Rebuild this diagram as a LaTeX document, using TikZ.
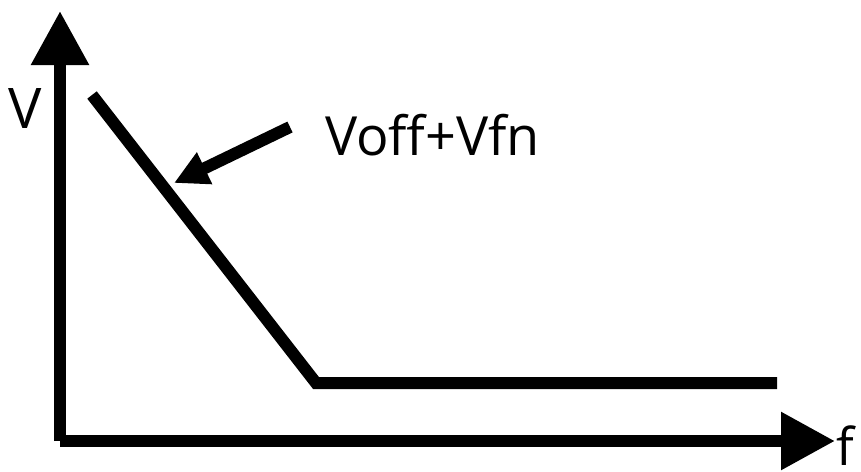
\documentclass[tikz,border=0pt]{standalone}
\usepackage{fontspec}
\setmainfont{Open Sans}
\usetikzlibrary{arrows.meta}
\begin{document}
\begin{tikzpicture}[x=1pt,y=-1pt,
  thick line/.style={line width=12pt},
  axis/.style={thick line,-{Triangle[length=54pt,width=55pt]}},
  pointer/.style={thick line,-{Triangle[length=34pt,width=33pt]}},
  lbl/.style={font=\fontsize{56}{60}\selectfont,inner sep=0pt}]
\useasboundingbox (0,0) rectangle (861,471);
\coordinate (O) at (60,441);
\coordinate (ytop) at (60,11);
\coordinate (xend) at (835,441);
\coordinate (c1) at (92,95);
\coordinate (c2) at (316,383);
\coordinate (c3) at (777,383);
\coordinate (p1) at (290,127);
\coordinate (p2) at (174,183);
\draw[axis] (O) -- (ytop);
\draw[axis] (O) -- (xend);
\draw[thick line] (c1) -- (c2) -- (c3);
\draw[pointer] (p1) -- (p2);
\node[lbl,anchor=base] (vlab) at (25,128) {V};
\node[lbl,anchor=base west] (curvelab) at (325,155) {\fontsize{54}{58}\selectfont Voff+Vfn};
\node[lbl,anchor=base west,font=\fontsize{52}{56}\selectfont] (flab) at (836,465) {f};
\end{tikzpicture}
\end{document}
